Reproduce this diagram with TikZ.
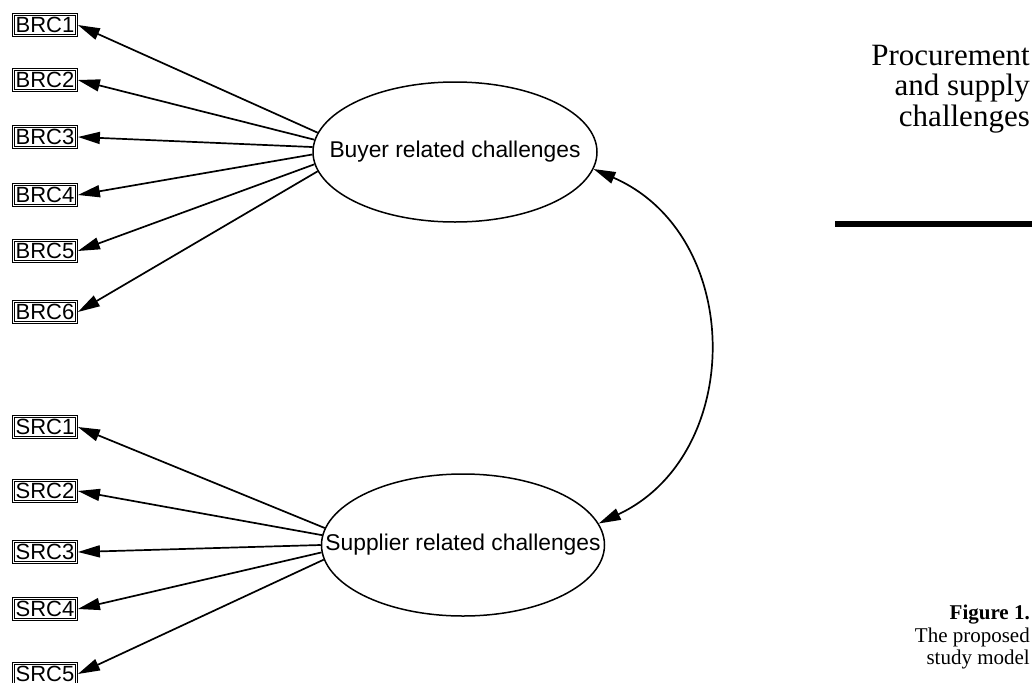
\documentclass[tikz,border=0pt]{standalone}
\usepackage{fontspec}
\setmainfont{Liberation Serif}
\newfontfamily\arialf{Liberation Sans}
\usetikzlibrary{arrows.meta,shapes.geometric}
\begin{document}
\begin{tikzpicture}[x=1pt,y=-1pt,
  obs/.style={draw, double=white, double distance=1.1pt, line width=0.9pt,
    minimum width=63pt, minimum height=21pt, inner sep=0pt, outer sep=1.4pt,
    font=\arialf\fontsize{22}{24}\selectfont},
  lat/.style={ellipse, draw, line width=1.5pt, inner xsep=-40pt, inner ysep=0pt,
    font=\arialf\fontsize{22.8}{26}\selectfont},
  load/.style={line width=1.7pt, -{Triangle[length=22pt,width=12pt]}},
  corr/.style={line width=1.7pt, {Triangle[length=22pt,width=12pt]}-{Triangle[length=22pt,width=12pt]}},
  side/.style={inner sep=0pt, anchor=base east, font=\fontsize{31}{30.5}\selectfont},
  figcap/.style={inner sep=0pt, anchor=base east, font=\fontsize{21}{22}\selectfont},
]
\useasboundingbox (0,0) rectangle (1034,683);

% latent variables
\node[lat, minimum width=284pt, minimum height=140pt] (buy) at (455,152) {Buyer related challenges};
\node[lat, minimum width=283pt, minimum height=142pt] (sup) at (463,545) {Supplier related challenges};

% observed indicators
\node[obs] (b1) at (45,25) {BRC1};
\node[obs] (b2) at (45,80) {BRC2};
\node[obs] (b3) at (45,137) {BRC3};
\node[obs] (b4) at (45,195) {BRC4};
\node[obs] (b5) at (45,251) {BRC5};
\node[obs] (b6) at (45,312) {BRC6};

\node[obs] (s1) at (45,427) {SRC1};
\node[obs] (s2) at (45,491) {SRC2};
\node[obs] (s3) at (45,552) {SRC3};
\node[obs] (s4) at (45,609) {SRC4};
\node[obs] (s5) at (45,674) {SRC5};

% loadings
\draw[load] (buy.172) -- (b1.east);
\draw[load] (buy.175) -- (b2.east);
\draw[load] (buy.178.5) -- (b3.east);
\draw[load] (buy.181.5) -- (b4.east);
\draw[load] (buy.185) -- (b5.east);
\draw[load] (buy.188.5) -- (b6.east);

\draw[load] (sup.173) -- (s1.east);
\draw[load] (sup.176.7) -- (s2.east);
\draw[load] (sup.180) -- (s3.east);
\draw[load] (sup.183.3) -- (s4.east);
\draw[load] (sup.186.5) -- (s5.east);

% correlation
\draw[corr] (buy.-7) .. controls (745,235) and (745,455) .. (sup.9);

% side text
\node[side] (t1) at (1030,65.7) {Procurement};
\node[side] (t2) at (1030,95.5) {and supply};
\node[side] (t3) at (1030,126.5) {challenges};
\draw[line width=6pt] (835,224) coordinate (r1) -- (1032,224) coordinate (r2);

\node[figcap, font=\bfseries\fontsize{21}{22}\selectfont] (f1) at (1030,619.3) {Figure 1.};
\node[figcap] (f2) at (1030,642) {The proposed};
\node[figcap] (f3) at (1030,664) {study model};
\end{tikzpicture}
\end{document}
